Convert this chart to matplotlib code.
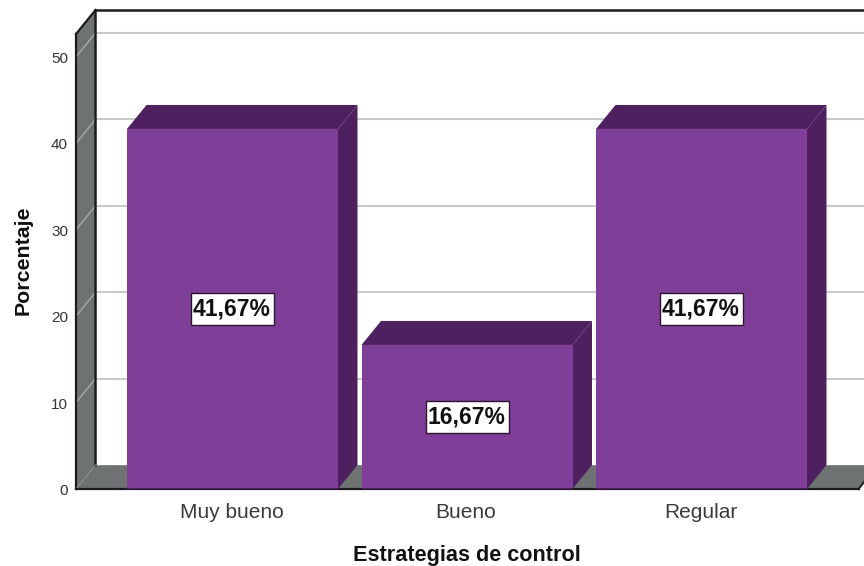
import matplotlib
matplotlib.use("Agg")
import matplotlib.pyplot as plt
from matplotlib.patches import Polygon, Rectangle

categorias = ["Muy bueno", "Bueno", "Regular"]
porcentajes = [41.67, 16.67, 41.67]
marcas_y = [0, 10, 20, 30, 40, 50]

plt.rcParams['font.family'] = ['Liberation Sans', 'DejaVu Sans']

# escala: 234.5 px por categoria, 8.64 px por unidad de porcentaje
PX_X = 234.5
PX_Y = 8.64
ancho = 211 / PX_X
prof_x = 19.5 / PX_X  # profundidad 3D
prof_y = 24 / PX_Y
izq = -156.5 / PX_X
der = 626 / PX_X
techo = 52.66

MORADO = '#7f3f98'
MORADO_OSC = '#4f2060'
GRIS = '#6e7273'
GRID = '#c9cbcb'
NEGRO = '#1c1c1c'

fig = plt.figure(figsize=(8.64, 5.66), dpi=100)
ax = fig.add_axes([0, 0, 1, 1])
ax.set_xlim(-232.5 / PX_X, (864 - 232.5) / PX_X)
ax.set_ylim(-(566 - 489) / PX_Y, 489 / PX_Y)
ax.axis('off')

# piso y pared izquierda
ax.add_patch(Polygon([(izq, 0), (izq + prof_x, prof_y), (der + prof_x, prof_y), (der, 0)],
                     fc=GRIS, ec='none', zorder=1))
ax.add_patch(Polygon([(izq, 0), (izq + prof_x, prof_y), (izq + prof_x, techo + prof_y), (izq, techo)],
                     fc=GRIS, ec='none', zorder=1))

# lineas de la grilla, en el fondo y en la pared
for m in marcas_y[1:]:
    ax.plot([izq, izq + prof_x], [m, m + prof_y], color='#a9acac', lw=1.0, zorder=2)
    ax.plot([izq + prof_x, der + prof_x], [m + prof_y, m + prof_y], color=GRID, lw=1.5, zorder=2)

# bordes
ax.plot([izq + prof_x, der + prof_x], [techo + prof_y, techo + prof_y], color=NEGRO, lw=1.8, zorder=3)
ax.plot([izq + prof_x, izq + prof_x], [prof_y, techo + prof_y], color=NEGRO, lw=1.8, zorder=3)
ax.plot([izq, izq + prof_x], [techo, techo + prof_y], color=NEGRO, lw=1.6, zorder=3)
ax.plot([izq, izq], [0, techo], color=NEGRO, lw=1.6, zorder=3)
ax.plot([izq, izq + prof_x], [0, prof_y], color='#8a8d8e', lw=0.8, zorder=3)
ax.plot([izq, der], [0, 0], color=NEGRO, lw=1.6, zorder=3)
ax.plot([der, der + prof_x], [0, prof_y], color=NEGRO, lw=1.4, zorder=3)
ax.plot([izq + prof_x, der + prof_x], [prof_y, prof_y], color='#8a8d8e', lw=0.6, zorder=3)

# barras con tapa y lado
for i, v in enumerate(porcentajes):
    x0 = i - ancho / 2
    x1 = i + ancho / 2
    ax.add_patch(Polygon([(x0, v), (x0 + prof_x, v + prof_y), (x1 + prof_x, v + prof_y), (x1, v)],
                         fc=MORADO_OSC, ec='none', zorder=4))
    ax.add_patch(Polygon([(x1, 0), (x1 + prof_x, prof_y), (x1 + prof_x, v + prof_y), (x1, v)],
                         fc=MORADO_OSC, ec='none', zorder=4))
    ax.bar(i, v, width=ancho, color=MORADO, zorder=5)
    ax.plot([x0, x1], [0, 0], color='#3a1a48', lw=1.2, zorder=6)
    # etiqueta: caja blanca de 83x32 px centrada en la barra
    ax.add_patch(Rectangle((i - 41.5 / PX_X, v / 2 - 16 / PX_Y), 83 / PX_X, 32 / PX_Y,
                           fc='white', ec='#2a1530', lw=1.0, zorder=7))
    ax.text(i - 1 / PX_X, v / 2, f"{v:.2f}%".replace('.', ','), ha='center', va='center',
            fontsize=16.5, fontweight='bold', color='#111111', zorder=8)

# textos de los ejes
for m in marcas_y:
    ax.text(izq - 8 / PX_X, m - 2 / PX_Y, str(m), ha='right', va='center', fontsize=11, color='#333333')
for i, c in enumerate(categorias):
    ax.text(i - 1 / PX_X, -24 / PX_Y, c, ha='center', va='center', fontsize=15, color='#3a3a3a')

ax.text(1, -67 / PX_Y, "Estrategias de control", ha='center', va='center',
        fontsize=15.6, fontweight='bold', color='#111111')
ax.text((23 - 232.5) / PX_X, (489 - 260) / PX_Y, "Porcentaje", rotation=90, ha='center', va='center',
        fontsize=15.4, fontweight='bold', color='#111111')

fig.savefig("out.png", dpi=100)
